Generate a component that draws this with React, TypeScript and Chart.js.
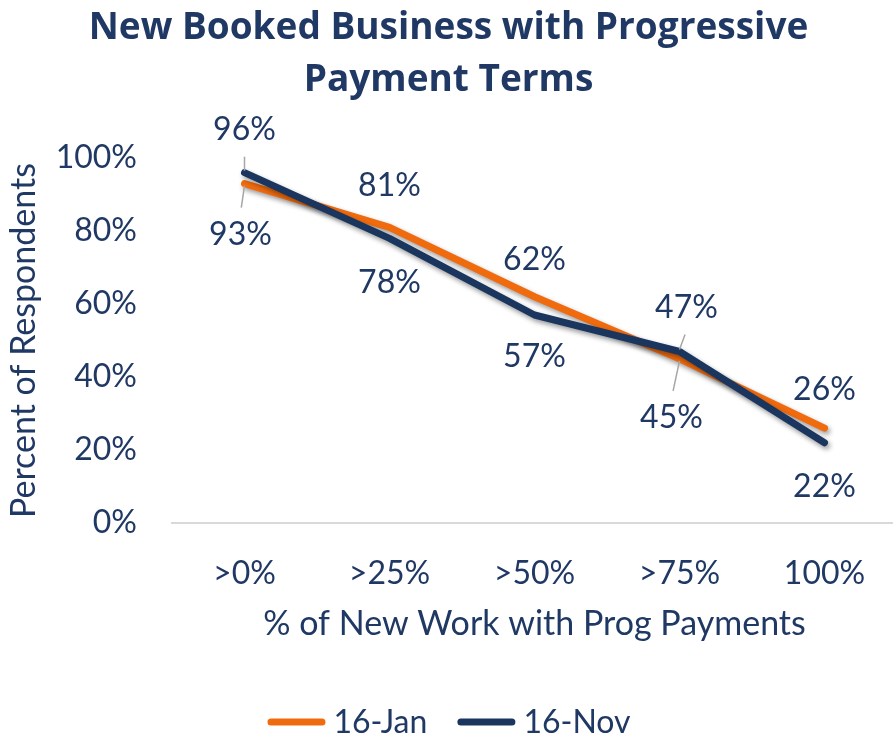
import React, { useEffect, useRef } from 'react';
import { Chart, registerables } from 'chart.js';

Chart.register(...registerables);

// ---- data ----
const categories = ['>0%', '>25%', '>50%', '>75%', '100%'];
const seriesNames = ['16-Jan', '16-Nov'];
const jan16 = [93, 81, 62, 45, 26];
const nov16 = [96, 78, 57, 47, 22];
const yTickStep = 20;
const yMin = 0;
const yMax = 100;

// ---- label placement (pixel offsets from the point) ----
const janLabelDx = [-4, 0, 0, -8, 0];
const janLabelDy = [51, -42, -37, 59, -38];
const novLabelDx = [0, 0, 0, 7, 0];
const novLabelDy = [-43, 44, 42, -44, 44];
const janLeader = [true, false, false, true, false];
const novLeader = [true, false, false, true, false];

const TEXT = '#203864';
const ORANGE = '#F06A0E';
const NAVY = '#1B365E';
const FONT = 'Lato, Carlito, "Open Sans", sans-serif';
const TITLE_FONT = '"Open Sans", Lato, sans-serif';

const shadowPlugin = {
  id: 'lineShadow',
  beforeDatasetDraw(chart: any) {
    const ctx = chart.ctx;
    ctx.save();
    ctx.shadowColor = 'rgba(0,0,0,0.4)';
    ctx.shadowBlur = 5;
    ctx.shadowOffsetX = 2;
    ctx.shadowOffsetY = 3;
  },
  afterDatasetDraw(chart: any) {
    chart.ctx.restore();
  },
};

const labelPlugin = {
  id: 'pointLabels',
  afterDatasetsDraw(chart: any) {
    const ctx = chart.ctx;
    const cfg = [
      { dx: janLabelDx, dy: janLabelDy, leader: janLeader },
      { dx: novLabelDx, dy: novLabelDy, leader: novLeader },
    ];
    chart.data.datasets.forEach((ds: any, di: number) => {
      const meta = chart.getDatasetMeta(di);
      const c = cfg[di];
      meta.data.forEach((pt: any, i: number) => {
        const dx = c.dx[i];
        const dy = c.dy[i];
        if (c.leader[i]) {
          const s = Math.sign(dy);
          ctx.save();
          ctx.strokeStyle = '#A6A6A6';
          ctx.lineWidth = 1.5;
          ctx.beginPath();
          ctx.moveTo(pt.x, pt.y + s * 2);
          ctx.lineTo(pt.x + dx * 0.8, pt.y + dy - s * 27);
          ctx.stroke();
          ctx.restore();
        }
        ctx.save();
        ctx.fillStyle = TEXT;
        ctx.font = `32px ${FONT}`;
        ctx.textAlign = 'center';
        ctx.textBaseline = 'middle';
        ctx.fillText(`${ds.data[i]}%`, pt.x + dx, pt.y + dy);
        ctx.restore();
      });
    });
  },
};

// legend drawn in the bottom band, in dataset order
const legendPlugin = {
  id: 'lineLegend',
  afterDraw(chart: any) {
    const ctx = chart.ctx;
    const markerLen = 51;
    const capR = 3.5;
    const textGap = 8;
    const itemGap = 30;
    const y = 722;
    ctx.save();
    ctx.font = `32px ${FONT}`;
    const items = chart.data.datasets.map((ds: any) => ({
      text: ds.label,
      color: ds.borderColor,
      w: capR * 2 + markerLen + textGap + ctx.measureText(ds.label).width,
    }));
    const total = items.reduce((a: number, it: any) => a + it.w, 0) + itemGap * (items.length - 1);
    let x = 449 - total / 2;
    items.forEach((it: any) => {
      ctx.strokeStyle = it.color;
      ctx.lineWidth = 7;
      ctx.lineCap = 'round';
      ctx.beginPath();
      ctx.moveTo(x + capR, y);
      ctx.lineTo(x + capR + markerLen, y);
      ctx.stroke();
      ctx.fillStyle = TEXT;
      ctx.textAlign = 'left';
      ctx.textBaseline = 'middle';
      ctx.fillText(it.text, x + capR * 2 + markerLen + textGap, y + 1);
      x += it.w + itemGap;
    });
    ctx.restore();
  },
};

export default function App() {
  const ref = useRef<HTMLCanvasElement | null>(null);

  useEffect(() => {
    if (!ref.current) return;
    Chart.defaults.font.family = FONT;
    const chart = new Chart(ref.current, {
      type: 'line',
      data: {
        labels: categories,
        datasets: [
          {
            label: seriesNames[0],
            data: jan16,
            borderColor: ORANGE,
            backgroundColor: ORANGE,
            borderWidth: 7,
            borderCapStyle: 'round',
            borderJoinStyle: 'round',
            pointRadius: 0,
            tension: 0,
            order: 2,
          },
          {
            label: seriesNames[1],
            data: nov16,
            borderColor: NAVY,
            backgroundColor: NAVY,
            borderWidth: 7,
            borderCapStyle: 'round',
            borderJoinStyle: 'round',
            pointRadius: 0,
            tension: 0,
            order: 1,
          },
        ],
      },
      options: {
        responsive: false,
        animation: false,
        devicePixelRatio: 1,
        layout: { padding: { left: 0, right: 3, top: 0, bottom: 89 } },
        plugins: {
          tooltip: { enabled: false },
          legend: { display: false },
          title: {
            display: true,
            text: ['New Booked Business with Progressive', 'Payment Terms'],
            color: TEXT,
            font: { size: 37, weight: 'bold', family: TITLE_FONT, lineHeight: 1.42 },
            padding: { top: 2, bottom: 51 },
          },
        },
        scales: {
          x: {
            offset: true,
            grid: { display: false, drawTicks: false, offset: true },
            border: { display: true, color: '#D9D9D9', width: 2 },
            ticks: { color: TEXT, font: { size: 32, family: FONT }, padding: 31 },
            title: {
              display: true,
              text: '% of New Work with Prog Payments',
              color: TEXT,
              font: { size: 34, family: FONT },
              padding: { top: 4, bottom: 4 },
            },
            afterFit(scale: any) {
              scale.height = 125;
            },
          },
          y: {
            min: yMin,
            max: yMax,
            grid: { display: false, drawTicks: false },
            border: { display: false },
            ticks: {
              stepSize: yTickStep,
              color: TEXT,
              font: { size: 32, family: FONT },
              padding: 35,
              callback: (v: any) => `${v}%`,
            },
            title: {
              display: true,
              text: 'Percent of Respondents',
              color: TEXT,
              font: { size: 34, family: FONT },
              padding: { top: 4, bottom: 4 },
            },
            afterFit(scale: any) {
              scale.width = 172;
            },
          },
        },
      },
      plugins: [shadowPlugin, labelPlugin, legendPlugin],
    } as any);
    return () => chart.destroy();
  }, []);

  return (
    <div style={{ position: 'fixed', left: 0, top: 0, width: 893, height: 737, overflow: 'hidden', background: '#fff' }}>
      <canvas ref={ref} width={900} height={737} style={{ display: 'block' }} />
    </div>
  );
}
